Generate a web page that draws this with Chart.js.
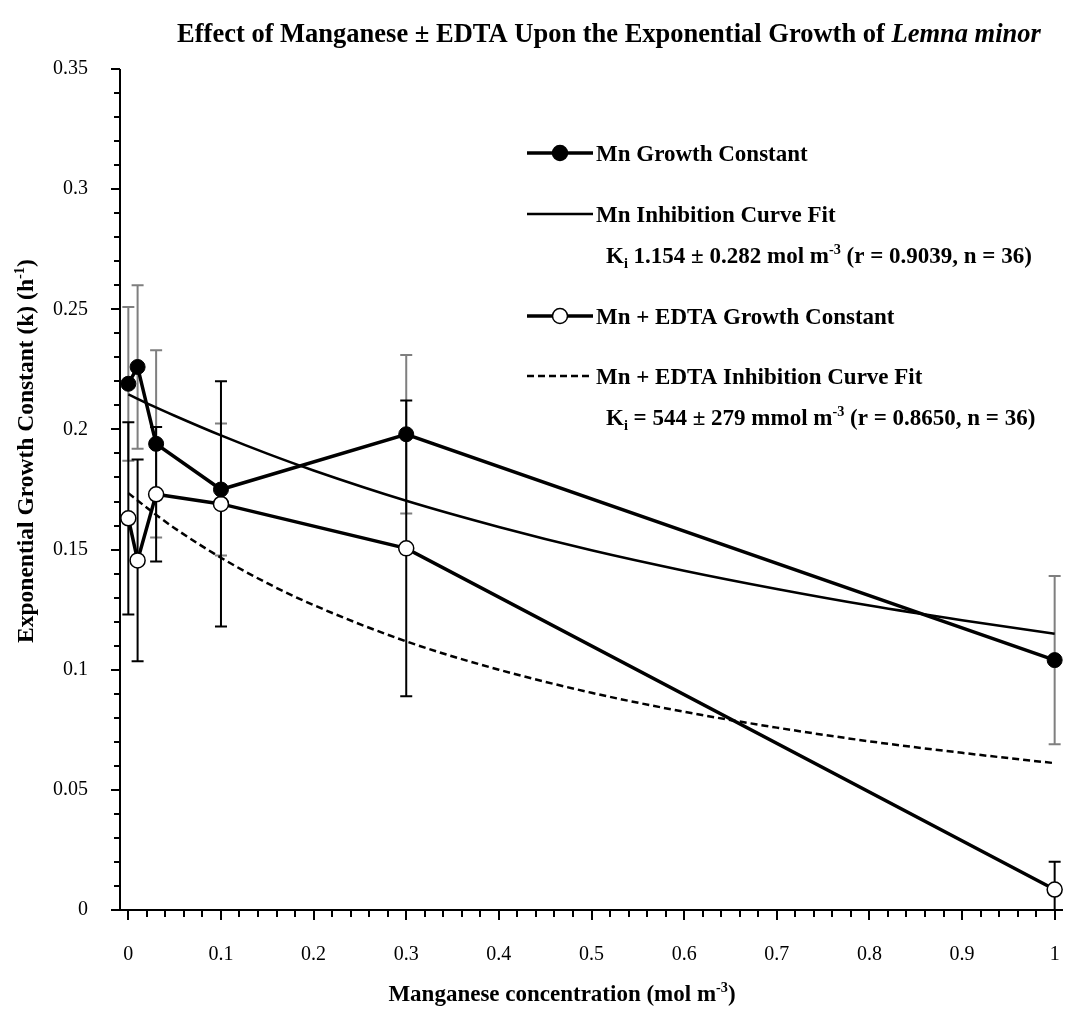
<!DOCTYPE html>
<html>
<head>
<meta charset="utf-8">
<script src="https://cdn.jsdelivr.net/npm/chart.js@4.4.0/dist/chart.umd.min.js"></script>
<style>
  html, body { margin: 0; padding: 0; background: #fff; }
  #wrap { width: 1075px; height: 1023px; }
</style>
</head>
<body>
<div id="wrap"><canvas id="mnChart" width="1075" height="1023"></canvas></div>
<script>
// values
const concentrations = [0, 0.01, 0.03, 0.1, 0.3, 1];
const mnGrowth = [0.219, 0.226, 0.194, 0.175, 0.198, 0.104];
const mnError = [0.032, 0.034, 0.039, 0.0275, 0.033, 0.035];
const edtaGrowth = [0.163, 0.1455, 0.173, 0.169, 0.1505, 0.0085];
const edtaError = [0.040, 0.042, 0.028, 0.051, 0.0615, 0.0116];

// fitted curves, sampled along the drawn lines
const fitX = [0, 0.025, 0.05, 0.1, 0.15, 0.2, 0.3, 0.4, 0.5, 0.6, 0.7, 0.8, 0.9, 1];
const mnFit = [0.2146, 0.2100, 0.2057, 0.1975, 0.1899, 0.1829, 0.1703, 0.1594, 0.1497, 0.1412, 0.1336, 0.1267, 0.1206, 0.1150];
const edtaFit = [0.1735, 0.1659, 0.1589, 0.1466, 0.1360, 0.1269, 0.1118, 0.1000, 0.0904, 0.0825, 0.0759, 0.0702, 0.0654, 0.0611];

const xTicks = [0, 0.1, 0.2, 0.3, 0.4, 0.5, 0.6, 0.7, 0.8, 0.9, 1];
const xTickLabels = ['0', '0.1', '0.2', '0.3', '0.4', '0.5', '0.6', '0.7', '0.8', '0.9', '1'];
const yTicks = [0, 0.05, 0.1, 0.15, 0.2, 0.25, 0.3, 0.35];
const yTickLabels = ['0', '0.05', '0.1', '0.15', '0.2', '0.25', '0.3', '0.35'];

const SERIF = '"Liberation Serif", "Times New Roman", serif';

function pts(xs, ys) {
    return xs.map((v, i) => ({ x: v, y: ys[i] }));
}

// text with sub/superscripts and italics
function fontFor(mode, size) {
    if (mode === 'sup' || mode === 'sub') return 'bold ' + (size * 0.62) + 'px ' + SERIF;
    if (mode === 'it') return 'italic bold ' + size + 'px ' + SERIF;
    return 'bold ' + size + 'px ' + SERIF;
}
function richWidth(ctx, parts, size) {
    let w = 0;
    for (const [t, mode] of parts) {
        ctx.font = fontFor(mode, size);
        w += ctx.measureText(t).width;
    }
    return w;
}
function drawRich(ctx, x, y, parts, size) {
    let cx = x;
    ctx.textBaseline = 'alphabetic';
    ctx.textAlign = 'left';
    for (const [t, mode] of parts) {
        ctx.font = fontFor(mode, size);
        let dy = 0;
        if (mode === 'sup') dy = -size * 0.4;
        if (mode === 'sub') dy = size * 0.22;
        ctx.fillText(t, cx, y + dy);
        cx += ctx.measureText(t).width;
    }
}

function drawErrors(ctx, xs, ys, xv, yv, ev, color) {
    ctx.strokeStyle = color;
    ctx.lineWidth = 2;
    for (let i = 0; i < xv.length; i++) {
        const px = xs.getPixelForValue(xv[i]);
        const top = ys.getPixelForValue(yv[i] + ev[i]);
        const bot = ys.getPixelForValue(yv[i] - ev[i]);
        ctx.beginPath();
        ctx.moveTo(px, top); ctx.lineTo(px, bot);
        ctx.moveTo(px - 6, top); ctx.lineTo(px + 6, top);
        ctx.moveTo(px - 6, bot); ctx.lineTo(px + 6, bot);
        ctx.stroke();
    }
}

const decorations = {
    id: 'decorations',
    beforeDatasetsDraw(chart) {
        const { ctx, chartArea: a, scales } = chart;
        ctx.save();
        ctx.beginPath();
        ctx.rect(a.left, a.top, a.right - a.left, a.bottom - a.top);
        ctx.clip();
        drawErrors(ctx, scales.x, scales.y, concentrations, mnGrowth, mnError, '#7f7f7f');
        drawErrors(ctx, scales.x, scales.y, concentrations, edtaGrowth, edtaError, '#000');
        ctx.restore();
    },
    afterDraw(chart) {
        const { ctx, chartArea: a, scales } = chart;
        const xs = scales.x, ys = scales.y;
        ctx.save();
        ctx.strokeStyle = '#000';
        ctx.fillStyle = '#000';

        // axis lines
        ctx.lineWidth = 2;
        ctx.beginPath();
        ctx.moveTo(a.left, a.top); ctx.lineTo(a.left, a.bottom);
        ctx.moveTo(a.left, a.bottom); ctx.lineTo(a.right, a.bottom);
        ctx.stroke();

        // y ticks: minor every 0.01, major every 0.05
        for (let k = 0; k <= 35; k++) {
            const py = Math.round(ys.getPixelForValue(k / 100));
            const len = k % 5 === 0 ? 9 : 6;
            ctx.beginPath();
            ctx.moveTo(a.left, py); ctx.lineTo(a.left - len, py);
            ctx.stroke();
        }
        // x ticks: minor every 0.02, major every 0.1
        for (let k = 0; k <= 50; k++) {
            const px = Math.round(xs.getPixelForValue(k / 50));
            const len = k % 5 === 0 ? 10 : 7;
            ctx.beginPath();
            ctx.moveTo(px, a.bottom); ctx.lineTo(px, a.bottom + len);
            ctx.stroke();
        }

        // title
        const titleParts = [['Effect of Manganese \u00b1 EDTA Upon the Exponential Growth of ', ''], ['Lemna minor', 'it']];
        const tw = richWidth(ctx, titleParts, 26.5);
        drawRich(ctx, 609 - tw / 2, 42, titleParts, 26.5);

        // x axis title
        const xt = [['Manganese concentration (mol m', ''], ['-3', 'sup'], [')', '']];
        const xw = richWidth(ctx, xt, 23);
        drawRich(ctx, 562 - xw / 2, 1001, xt, 23);

        // y axis title
        const yt = [['Exponential Growth Constant (k) (h', ''], ['-1', 'sup'], [')', '']];
        const yw = richWidth(ctx, yt, 23.5);
        ctx.save();
        ctx.translate(33, 451);
        ctx.rotate(-Math.PI / 2);
        drawRich(ctx, -yw / 2, 0, yt, 23.5);
        ctx.restore();

        // legend
        const lx0 = 527, lx1 = 593, tx = 596, kx = 606, fs = 23;
        function sample(y, width, dash) {
            ctx.save();
            ctx.lineWidth = width;
            ctx.setLineDash(dash || []);
            ctx.beginPath();
            ctx.moveTo(lx0, y); ctx.lineTo(lx1, y);
            ctx.stroke();
            ctx.restore();
        }
        function marker(y, fill) {
            ctx.save();
            ctx.beginPath();
            ctx.arc((lx0 + lx1) / 2, y, 7.5, 0, Math.PI * 2);
            ctx.fillStyle = fill;
            ctx.fill();
            ctx.lineWidth = 1.5;
            ctx.stroke();
            ctx.restore();
        }
        sample(153, 3.5); marker(153, '#000');
        drawRich(ctx, tx, 161, [['Mn Growth Constant', '']], fs);
        sample(214, 2.5);
        drawRich(ctx, tx, 222, [['Mn Inhibition Curve Fit', '']], fs);
        drawRich(ctx, kx, 263, [['K', ''], ['i', 'sub'], [' 1.154 \u00b1 0.282 mol m', ''], ['-3', 'sup'], [' (r = 0.9039, n = 36)', '']], fs);
        sample(316, 3.5); marker(316, '#fff');
        drawRich(ctx, tx, 324, [['Mn + EDTA Growth Constant', '']], fs);
        sample(376, 2.5, [7, 4]);
        drawRich(ctx, tx, 384, [['Mn + EDTA Inhibition Curve Fit', '']], fs);
        drawRich(ctx, kx, 425, [['K', ''], ['i', 'sub'], [' = 544 \u00b1 279 mmol m', ''], ['-3', 'sup'], [' (r = 0.8650, n = 36)', '']], fs);

        ctx.restore();
    }
};

const ctx = document.getElementById('mnChart').getContext('2d');
new Chart(ctx, {
    type: 'line',
    data: {
        datasets: [{
            label: 'Mn Growth Constant',
            data: pts(concentrations, mnGrowth),
            borderColor: '#000',
            borderWidth: 3.5,
            pointRadius: 7.5,
            pointBackgroundColor: '#000',
            pointBorderColor: '#000',
            pointBorderWidth: 1,
            fill: false
        }, {
            label: 'Mn + EDTA Growth Constant',
            data: pts(concentrations, edtaGrowth),
            borderColor: '#000',
            borderWidth: 3.5,
            pointRadius: 7.5,
            pointBackgroundColor: '#fff',
            pointBorderColor: '#000',
            pointBorderWidth: 1.5,
            fill: false
        }, {
            label: 'Mn Inhibition Curve Fit',
            data: pts(fitX, mnFit),
            borderColor: '#000',
            borderWidth: 2.5,
            pointRadius: 0,
            cubicInterpolationMode: 'monotone',
            fill: false
        }, {
            label: 'Mn + EDTA Inhibition Curve Fit',
            data: pts(fitX, edtaFit),
            borderColor: '#000',
            borderWidth: 2.5,
            borderDash: [7, 4],
            pointRadius: 0,
            cubicInterpolationMode: 'monotone',
            fill: false
        }]
    },
    options: {
        responsive: false,
        animation: false,
        devicePixelRatio: 1,
        layout: { padding: { left: 0, top: 69, right: 12, bottom: 0 } },
        plugins: {
            legend: { display: false },
            tooltip: { enabled: false }
        },
        scales: {
            x: {
                type: 'linear',
                min: -0.009,
                max: 1.009,
                grid: { display: false },
                border: { display: false },
                afterBuildTicks: (scale) => { scale.ticks = xTicks.map(v => ({ value: v })); },
                afterFit: (scale) => {
                    scale.height = 113;
                    scale.paddingLeft = 0;
                    scale.paddingRight = 0;
                },
                ticks: {
                    padding: 25,
                    maxRotation: 0,
                    color: '#000',
                    font: { family: SERIF, size: 20 },
                    callback: (v, i) => xTickLabels[i]
                }
            },
            y: {
                type: 'linear',
                min: 0,
                max: 0.35,
                grid: { display: false },
                border: { display: false },
                afterBuildTicks: (scale) => { scale.ticks = yTicks.map(v => ({ value: v })); },
                afterFit: (scale) => {
                    scale.width = 120;
                    scale.paddingTop = 0;
                    scale.paddingBottom = 0;
                },
                ticks: {
                    padding: 24,
                    color: '#000',
                    font: { family: SERIF, size: 20 },
                    callback: (v, i) => yTickLabels[i]
                }
            }
        }
    },
    plugins: [decorations]
});
</script>
</body>
</html>
